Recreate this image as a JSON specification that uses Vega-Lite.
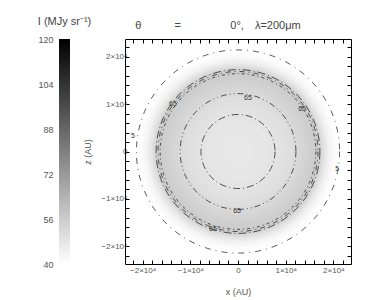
{
  "$schema": "https://vega.github.io/schema/vega-lite/v6.json",
  "background": "white",
  "padding": {"left": 37, "top": 16, "right": 5, "bottom": 5},
  "bounds": "flush",
  "spacing": 55,
  "config": {
    "font": "Liberation Sans",
    "view": {"stroke": null},
    "axis": {"labelFont": "Liberation Sans", "labelFontSize": 8, "labelColor": "#555", "titleFont": "Liberation Sans", "titleFontSize": 9, "titleFontWeight": "normal", "titleColor": "#555", "grid": false, "domainColor": "#000", "tickColor": "#000"},
    "title": {"fontSize": 11, "fontWeight": "normal", "color": "#444", "font": "Liberation Sans", "offset": 8}
  },
  "hconcat": [
    {
      "width": 11,
      "height": 225,
      "title": {"text": "I (MJy sr⁻¹)", "anchor": "middle"},
      "data": {"values": [{"k": "I", "lo": 40, "hi": 120}]},
      "mark": {"type": "rect", "color": {"gradient": "linear", "x1": 0, "y1": 1, "x2": 0, "y2": 0, "stops": [{"offset": 0, "color": "#ffffff"}, {"offset": 1, "color": "#000000"}]}},
      "encoding": {
        "x": {"field": "k", "type": "nominal", "axis": null, "scale": {"paddingInner": 0, "paddingOuter": 0}},
        "y": {"field": "lo", "type": "quantitative", "scale": {"domain": [40, 120], "nice": false, "zero": false}, "axis": {"values": [40, 56, 72, 88, 104, 120], "ticks": false, "domain": false, "labelPadding": 6, "title": null, "labelFontSize": 9}},
        "y2": {"field": "hi"}
      }
    },
    {
      "width": 226,
      "height": 225,
      "title": {"text": "θ\u2002\u2002\u2002\u2002\u2002\u2002=\u2002\u2002\u2002\u2002\u2002\u2002\u2002\u2002\u20020°,\u2002\u2002λ=200μm", "anchor": "middle", "dx": -20},
      "layer": [
        {
          "data": {"values": [
            {"x": 0, "y": 0, "r": 21050, "I": 40.5}, {"x": 0, "y": 0, "r": 20630, "I": 41}, {"x": 0, "y": 0, "r": 20210, "I": 41.8}, {"x": 0, "y": 0, "r": 19790, "I": 42.8},
            {"x": 0, "y": 0, "r": 19370, "I": 44}, {"x": 0, "y": 0, "r": 18950, "I": 46}, {"x": 0, "y": 0, "r": 18520, "I": 48}, {"x": 0, "y": 0, "r": 18100, "I": 50.5},
            {"x": 0, "y": 0, "r": 17680, "I": 53}, {"x": 0, "y": 0, "r": 17260, "I": 55.5}, {"x": 0, "y": 0, "r": 16840, "I": 56.5}, {"x": 0, "y": 0, "r": 16420, "I": 56},
            {"x": 0, "y": 0, "r": 16000, "I": 55.5}, {"x": 0, "y": 0, "r": 15160, "I": 54.5}, {"x": 0, "y": 0, "r": 14310, "I": 53.5}, {"x": 0, "y": 0, "r": 13470, "I": 52.5},
            {"x": 0, "y": 0, "r": 12630, "I": 51.5}, {"x": 0, "y": 0, "r": 11580, "I": 50.5}, {"x": 0, "y": 0, "r": 10530, "I": 49.8}, {"x": 0, "y": 0, "r": 9470, "I": 49},
            {"x": 0, "y": 0, "r": 8420, "I": 48.5}, {"x": 0, "y": 0, "r": 6740, "I": 48}, {"x": 0, "y": 0, "r": 5050, "I": 47.5}, {"x": 0, "y": 0, "r": 2950, "I": 47.2}
          ]},
          "mark": {"type": "point", "shape": "circle", "filled": true, "opacity": 1, "strokeWidth": 0},
          "encoding": {
            "x": {"field": "x", "type": "quantitative", "scale": {"domain": [-23700, 23700], "nice": false, "zero": false}, "axis": null},
            "y": {"field": "y", "type": "quantitative", "scale": {"domain": [-23700, 23700], "nice": false, "zero": false}, "axis": null},
            "size": {"field": "r", "type": "quantitative", "scale": {"type": "pow", "exponent": 2, "domain": [0, 23700], "range": [0, 50625], "zero": true, "nice": false}, "legend": null},
            "color": {"field": "I", "type": "quantitative", "scale": {"domain": [40, 120], "range": ["#ffffff", "#000000"], "interpolate": "rgb"}, "legend": null},
            "order": {"field": "r", "sort": "descending"}
          }
        },
        {
          "data": {"values": [
            {"x": 0, "y": 0, "r": 21400, "lev": "a"}, {"x": 0, "y": 0, "r": 17250, "lev": "b"}, {"x": 0, "y": 0, "r": 16850, "lev": "c"},
            {"x": 0, "y": 0, "r": 16400, "lev": "d"}, {"x": 0, "y": 0, "r": 12200, "lev": "e"}, {"x": 0, "y": 0, "r": 7800, "lev": "f"}
          ]},
          "mark": {"type": "point", "shape": "circle", "filled": false, "opacity": 1, "stroke": "#111", "strokeWidth": 0.7},
          "encoding": {
            "x": {"field": "x", "type": "quantitative", "scale": {"domain": [-23700, 23700], "nice": false, "zero": false}, "axis": null},
            "y": {"field": "y", "type": "quantitative", "scale": {"domain": [-23700, 23700], "nice": false, "zero": false}, "axis": null},
            "size": {"field": "r", "type": "quantitative", "scale": {"type": "pow", "exponent": 2, "domain": [0, 23700], "range": [0, 50625], "zero": true, "nice": false}, "legend": null},
            "strokeDash": {"field": "lev", "type": "nominal", "scale": {"domain": ["a", "b", "c", "d", "e", "f"], "range": [[6, 5, 1, 5], [8, 3, 1, 3], [5, 4, 1, 4], [3, 3, 1, 3], [6, 3, 1, 3, 1, 3], [7, 3, 1, 3]]}, "legend": null}
          }
        },
        {
          "data": {"values": [
            {"x": 2100, "y": 11240, "t": "65"}, {"x": -200, "y": -12500, "t": "65"},
            {"x": -13650, "y": 9980, "t": "65"}, {"x": 13440, "y": 8930, "t": "65"},
            {"x": -5250, "y": -16280, "t": "65"},
            {"x": -22050, "y": 3250, "t": "5"}, {"x": 20800, "y": -3680, "t": "5"}
          ]},
          "mark": {"type": "text", "fontSize": 7, "fill": "#333", "stroke": null, "font": "Liberation Sans"},
          "encoding": {
            "x": {"field": "x", "type": "quantitative", "scale": {"domain": [-23700, 23700], "nice": false, "zero": false},
              "axis": {"orient": "bottom", "title": "x (AU)", "titlePadding": 13, "labelPadding": 6, "tickSize": -4,
                "values": [-22000, -20000, -18000, -16000, -14000, -12000, -10000, -8000, -6000, -4000, -2000, 0, 2000, 4000, 6000, 8000, 10000, 12000, 14000, 16000, 18000, 20000, 22000],
                "labelExpr": "datum.value % 10000 !== 0 ? '' : (datum.value === 0 ? '0' : (datum.value < 0 ? '−' : '') + abs(datum.value) / 10000 + '×10⁴')"}},
            "y": {"field": "y", "type": "quantitative", "scale": {"domain": [-23700, 23700], "nice": false, "zero": false},
              "axis": {"orient": "left", "title": "z (AU)", "titlePadding": 8, "labelPadding": 2, "tickSize": -4,
                "values": [-22000, -20000, -18000, -16000, -14000, -12000, -10000, -8000, -6000, -4000, -2000, 0, 2000, 4000, 6000, 8000, 10000, 12000, 14000, 16000, 18000, 20000, 22000],
                "labelExpr": "datum.value % 10000 !== 0 ? '' : (datum.value === 0 ? '0' : (datum.value < 0 ? '−' : '') + abs(datum.value) / 10000 + '×10⁴')"}},
            "text": {"field": "t"}
          }
        },
        {
          "data": {"values": [{"x": 0, "y": 0}]},
          "mark": {"type": "point", "opacity": 0},
          "encoding": {
            "x": {"field": "x", "type": "quantitative", "scale": {"domain": [-23700, 23700], "nice": false, "zero": false},
              "axis": {"orient": "top", "title": null, "labels": false, "tickSize": -4,
                "values": [-22000, -20000, -18000, -16000, -14000, -12000, -10000, -8000, -6000, -4000, -2000, 0, 2000, 4000, 6000, 8000, 10000, 12000, 14000, 16000, 18000, 20000, 22000]}},
            "y": {"field": "y", "type": "quantitative", "scale": {"domain": [-23700, 23700], "nice": false, "zero": false},
              "axis": {"orient": "right", "title": null, "labels": false, "tickSize": -4,
                "values": [-22000, -20000, -18000, -16000, -14000, -12000, -10000, -8000, -6000, -4000, -2000, 0, 2000, 4000, 6000, 8000, 10000, 12000, 14000, 16000, 18000, 20000, 22000]}}
          }
        }
      ],
      "resolve": {"axis": {"x": "independent", "y": "independent"}}
    }
  ]
}
